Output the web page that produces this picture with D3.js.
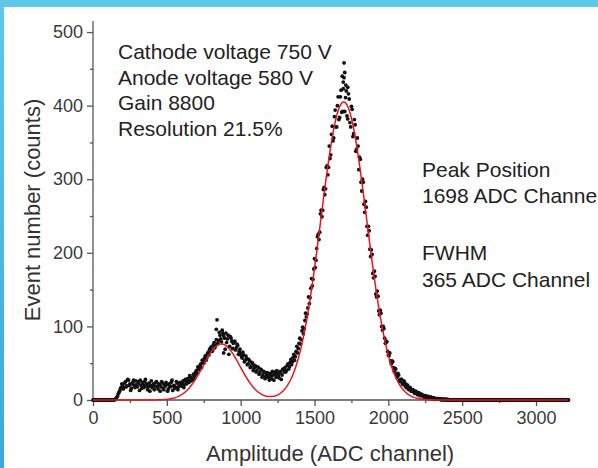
<!DOCTYPE html>
<html>
<head>
<meta charset="utf-8">
<script src="https://cdn.jsdelivr.net/npm/d3@7"></script>
<style>
  html, body { margin: 0; padding: 0; background: #ffffff; }
  svg { display: block; font-family: "Liberation Sans", Arial, Helvetica, sans-serif; }
</style>
</head>
<body>
<svg id="chart" width="598" height="468"></svg>
<script>
// Pulse-height spectrum, counts per ADC channel.
// Samples on channels 0, 10, 20, ... 3220.
const channelStep = 10;
const counts = [
  0,0,0,0,0,0,0,0,0,0,
  0,0,0,0,0,1,3,8,12,17,
  21,17,25,19,27,22,16,24,20,26,
  18,23,27,16,21,25,19,14,23,20,
  17,22,19,25,15,21,18,23,14,19,
  21,15,19,24,13,20,17,23,18,24,
  19,26,21,25,29,24,31,27,35,33,
  40,45,41,49,54,50,60,57,65,69,
  72,67,78,74,109,81,88,79,90,84,
  91,83,62,86,80,77,80,71,74,66,
  63,57,61,54,57,49,53,46,50,43,
  46,40,44,37,41,34,38,32,37,30,
  36,29,34,38,31,36,30,39,34,41,
  44,40,49,45,55,52,62,59,73,70,
  84,82,99,97,118,117,140,139,165,164,
  192,190,222,218,253,249,286,279,316,306,
  345,333,372,356,394,371,412,384,421,392,
  438,411,386,416,377,399,358,381,338,356,
  313,327,284,296,255,262,224,230,195,198,
  166,168,140,141,116,118,95,97,77,79,
  61,64,49,52,39,42,31,34,25,28,
  21,24,17,20,14,16,12,13,9,11,
  7,9,6,7,4,6,3,5,2,4,
  2,3,1,2,1,2,0,1,1,0,
  1,0,0,0,0,0,0,0,0,0,
  0,0,0,0,0,0,0,0,0,0,
  0,0,0,0,0,0,0,0,0,0,
  0,0,0,0,0,0,0,0,0,0,
  0,0,0,0,0,0,0,0,0,0,
  0,0,0,0,0,0,0,0,0,0,
  0,0,0,0,0,0,0,0,0,0,
  0,0,0,0,0,0,0,0,0,0,
  0,0,0
];
// Samples on channels 5, 15, 25, ... 3215.
const countsMid = [
  0,0,0,0,0,0,0,0,0,0,
  0,0,0,0,0,2,5,10,15,22,
  15,23,18,28,20,13,22,27,17,21,
  25,13,20,24,17,28,22,18,12,26,
  20,14,24,18,22,12,25,16,21,24,
  12,22,18,27,19,16,25,14,21,20,
  23,17,28,22,27,33,26,30,29,38,
  36,43,47,44,52,57,54,63,61,70,
  66,75,71,82,77,92,83,94,87,69,
  78,88,73,84,70,79,68,76,62,69,
  59,65,52,60,48,55,44,51,40,47,
  38,45,35,42,31,39,29,36,33,27,
  33,39,27,35,40,33,37,28,42,38,
  38,47,42,51,48,58,54,66,64,77,
  76,94,90,108,113,125,131,152,155,178,
  180,206,225,228,258,258,289,287,318,316,
  328,361,352,385,371,400,381,412,391,423,
  392,420,382,409,371,395,362,374,341,345,
  330,296,300,266,270,236,236,205,204,172,
  175,144,148,121,122,100,100,84,80,66,
  60,53,53,44,43,35,36,27,28,22,
  26,19,21,15,17,12,14,10,12,8,
  10,6,8,5,6,3,5,3,4,2,
  3,1,2,2,1,1,1,0,1,0,
  0,0,0,0,0,0,0,0,0,0,
  0,0,0,0,0,0,0,0,0,0,
  0,0,0,0,0,0,0,0,0,0,
  0,0,0,0,0,0,0,0,0,0,
  0,0,0,0,0,0,0,0,0,0,
  0,0,0,0,0,0,0,0,0,0,
  0,0,0,0,0,0,0,0,0,0,
  0,0,0,0,0,0,0,0,0,0,
  0,0
];

// Scattered high counts between the regular samples.
const extraChannels = [835, 875, 885, 1695, 1700, 1705, 1712, 1688, 1725];
const extraCounts   = [96, 95, 64, 432, 458, 445, 428, 440, 425];

// Two-Gaussian fit: escape peak and main peak.
const fitCenters = [870, 1698];
const fitFwhm = [294, 365];
const fitAmplitudes = [76, 405];

const xTicks = [0, 500, 1000, 1500, 2000, 2500, 3000];
const yTicks = [0, 100, 200, 300, 400, 500];

const infoLeft = ["Cathode voltage 750 V", "Anode voltage 580 V", "Gain 8800", "Resolution 21.5%"];
const infoRight = ["Peak Position", "1698 ADC Channel", "FWHM", "365 ADC Channel"];

const svg = d3.select("#chart");
const W = 598, H = 468;

// Frame bands along the top and left edges.
const defs = svg.append("defs");
const grad = defs.append("linearGradient").attr("id", "edge").attr("x1", 0).attr("y1", 0).attr("x2", 0).attr("y2", 1);
grad.append("stop").attr("offset", "0%").attr("stop-color", "#5ec9e7");
grad.append("stop").attr("offset", "100%").attr("stop-color", "#3ba9d9");
svg.append("rect").attr("x", 0).attr("y", 0).attr("width", W).attr("height", 7).attr("fill", "#5ec9e7");
svg.append("rect").attr("x", 0).attr("y", 0).attr("width", 4).attr("height", H).attr("fill", "url(#edge)");

const x = d3.scaleLinear().domain([0, 3220]).range([93, 568.5]);
const y = d3.scaleLinear().domain([0, 515]).range([400, 21]);

const points = counts.map((c, i) => [i * channelStep, c])
  .concat(countsMid.map((c, i) => [i * channelStep + channelStep / 2, c]))
  .concat(extraChannels.map((ch, i) => [ch, extraCounts[i]]));

// Axes
const xMinor = d3.range(0, 3220, 250).filter(v => v % 500 !== 0);
const yMinor = d3.range(50, 515, 100);
const tickFont = g => g.selectAll("text").attr("fill", "#3a3a3a").attr("font-size", 18)
  .attr("font-family", "Liberation Sans, Arial, sans-serif");
const tickLines = g => g.selectAll("line").attr("stroke", "#555").attr("stroke-width", 1.3);

const gx = svg.append("g").attr("transform", "translate(0,400)");
gx.append("line").attr("x1", x(0)).attr("x2", x(3220)).attr("y1", 0).attr("y2", 0)
  .attr("stroke", "#9a9a9a").attr("stroke-width", 2.5);
gx.call(d3.axisBottom(x).tickValues(xMinor).tickSize(3).tickFormat(""))
  .call(g => g.select(".domain").remove()).call(tickLines);
const gx2 = svg.append("g").attr("transform", "translate(0,400)");
gx2.call(d3.axisBottom(x).tickValues(xTicks).tickSize(6).tickPadding(5).tickFormat(d3.format("d")))
  .call(g => g.select(".domain").remove()).call(tickLines).call(tickFont);

const gy = svg.append("g").attr("transform", "translate(93,0)");
gy.append("line").attr("x1", 0).attr("x2", 0).attr("y1", y(0)).attr("y2", y(515))
  .attr("stroke", "#4a4a4a").attr("stroke-width", 1.6);
gy.call(d3.axisLeft(y).tickValues(yMinor).tickSize(3).tickFormat(""))
  .call(g => g.select(".domain").remove()).call(tickLines);
const gy2 = svg.append("g").attr("transform", "translate(93,0)");
gy2.call(d3.axisLeft(y).tickValues(yTicks).tickSize(6).tickPadding(4).tickFormat(d3.format("d")))
  .call(g => g.select(".domain").remove()).call(tickLines).call(tickFont);

// Measured counts
svg.append("g").selectAll("circle").data(points).join("circle")
  .attr("cx", d => x(d[0])).attr("cy", d => y(d[1])).attr("r", 1.9)
  .attr("fill", "#111");

// Fit curve from the peak parameters
const fitChannels = d3.range(0, 3221, 5);
const fitValue = ch => d3.sum(fitCenters, (c, i) => {
  const s = fitFwhm[i] / (2 * Math.sqrt(2 * Math.LN2));
  return fitAmplitudes[i] * Math.exp(-((ch - c) ** 2) / (2 * s * s));
});
svg.append("path")
  .datum(fitChannels)
  .attr("fill", "none").attr("stroke", "#e8141c").attr("stroke-width", 1.5)
  .attr("d", d3.line().x(ch => x(ch)).y(ch => y(fitValue(ch))));

// Axis titles
svg.append("text").attr("x", 330).attr("y", 461).attr("text-anchor", "middle")
  .attr("font-size", 22).attr("fill", "#333").text("Amplitude (ADC channel)");
svg.append("text").attr("transform", "translate(40,210) rotate(-90)").attr("text-anchor", "middle")
  .attr("font-size", 22).attr("fill", "#333").text("Event number (counts)");

// Run conditions and peak summary
const leftBase = [59, 85, 110, 136];
svg.append("g").selectAll("text").data(infoLeft).join("text")
  .attr("x", 118).attr("y", (d, i) => leftBase[i])
  .attr("font-size", 21).attr("fill", "#222").text(d => d);
const rightBase = [177, 203, 260, 287];
svg.append("g").selectAll("text").data(infoRight).join("text")
  .attr("x", 422).attr("y", (d, i) => rightBase[i])
  .attr("font-size", 21).attr("fill", "#222").text(d => d);
</script>
</body>
</html>
